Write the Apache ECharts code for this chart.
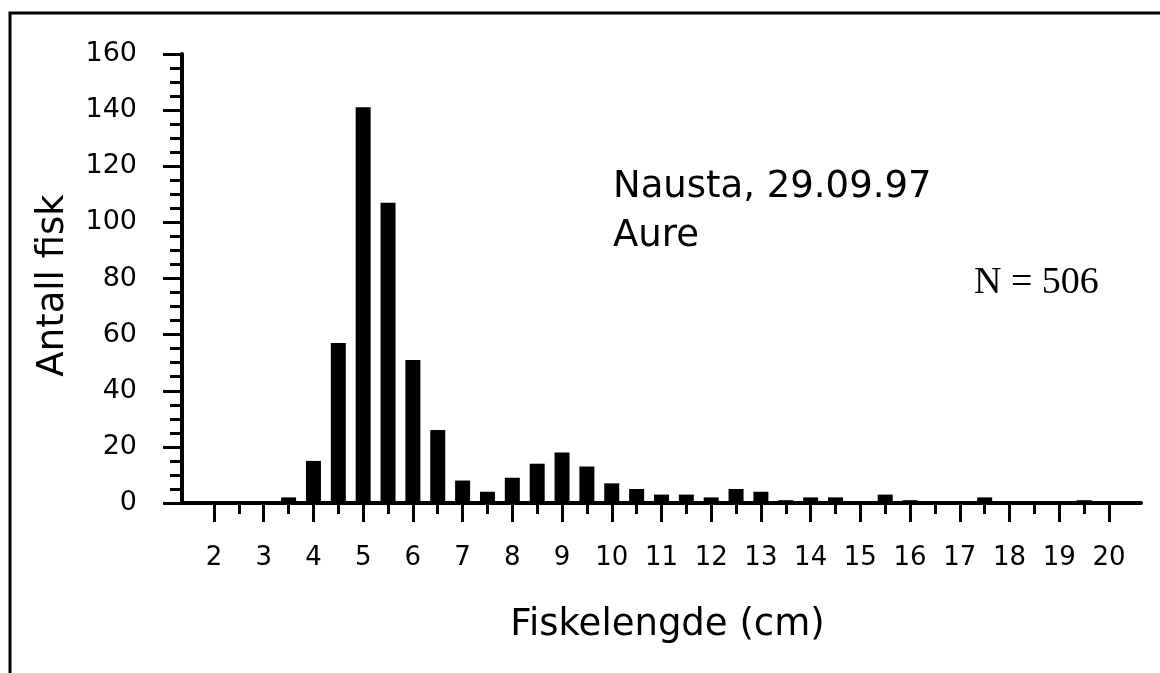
<!DOCTYPE html>
<html>
<head>
<meta charset="utf-8">
<script src="https://cdn.jsdelivr.net/npm/echarts@6/dist/echarts.min.js"></script>
<style>
html,body{margin:0;padding:0;background:#fff;}
#chart{width:1160px;height:673px;}
</style>
</head>
<body>
<div id="chart"></div>
<script>
// Fish length classes (cm) and counts
const lengths = [2,2.5,3,3.5,4,4.5,5,5.5,6,6.5,7,7.5,8,8.5,9,9.5,10,10.5,11,11.5,12,12.5,13,13.5,14,14.5,15,15.5,16,16.5,17,17.5,18,18.5,19,19.5,20];
const counts  = [0,0,0,2,15,57,141,107,51,26,8,4,9,14,18,13,7,5,3,3,2,5,4,1,2,2,0,3,1,0,0,2,0,0,0,1,0];
const majorTicks = [2,3,4,5,6,7,8,9,10,11,12,13,14,15,16,17,18,19,20];
const minorTicks = [2.5,3.5,4.5,5.5,6.5,7.5,8.5,9.5,10.5,11.5,12.5,13.5,14.5,15.5,16.5,17.5,18.5,19.5];
const yTicks = [0,20,40,60,80,100,120,140,160];
const titleText = 'Nausta, 29.09.97';
const speciesText = 'Aure';
const nText = 'N = 506';

const chart = echarts.init(document.getElementById('chart'), null, {renderer:'canvas'});
const sans = 'DejaVu Sans';
const X_MIN = 1.356, X_MAX = 20.645;

const option = {
  backgroundColor: '#ffffff',
  animation: false,
  grid: {left: 182, right: 19, top: 54, bottom: 170, containLabel: false},
  xAxis: [
    {
      type: 'value', position: 'bottom', min: X_MIN, max: X_MAX,
      name: 'Fiskelengde (cm)', nameLocation: 'middle', nameGap: 104,
      nameTextStyle: {fontFamily: sans, fontSize: 37, color: '#000', padding: [0,0,0,12]},
      axisLine: {show: true, lineStyle: {color: '#000', width: 4}},
      axisTick: {show: true, length: 19, lineStyle: {color: '#000', width: 3}, customValues: majorTicks},
      axisLabel: {show: true, margin: 42, fontFamily: sans, fontSize: 26, color: '#000', customValues: majorTicks,
        formatter: v => String(v)},
      splitLine: {show: false}
    },
    {
      type: 'value', position: 'bottom', min: X_MIN, max: X_MAX, offset: 0,
      axisLine: {show: false},
      axisTick: {show: true, length: 11, lineStyle: {color: '#000', width: 3}, customValues: minorTicks},
      axisLabel: {show: false},
      splitLine: {show: false}
    }
  ],
  yAxis: {
    type: 'value', min: 0, max: 160, interval: 20,
    name: 'Antall fisk', nameLocation: 'middle', nameGap: 110, nameRotate: 90,
    nameTextStyle: {fontFamily: sans, fontSize: 37, color: '#000', padding: [0,14,0,0]},
    axisLine: {show: true, lineStyle: {color: '#000', width: 4}},
    axisTick: {show: true, length: 19, lineStyle: {color: '#000', width: 3}},
    minorTick: {show: true, splitNumber: 4, length: 12, lineStyle: {color: '#000', width: 3}},
    axisLabel: {margin: 45, fontFamily: sans, fontSize: 27, color: '#000', padding: [4,0,0,0]},
    splitLine: {show: false}
  },
  series: [{
    type: 'bar', xAxisIndex: 0, yAxisIndex: 0,
    barWidth: 15,
    itemStyle: {color: '#000'},
    data: lengths.map((l, i) => [l, counts[i]])
  }],
  graphic: [
    {type: 'rect', silent: true, z: 0, shape: {x: 10, y: 13, width: 1300, height: 800},
      style: {fill: 'none', stroke: '#000', lineWidth: 3}},
    {type: 'text', x: 613, y: 187, style: {text: titleText, font: '37px "DejaVu Sans"', fill: '#000', verticalAlign: 'middle'}},
    {type: 'text', x: 613, y: 236, style: {text: speciesText, font: '37px "DejaVu Sans"', fill: '#000', verticalAlign: 'middle'}},
    {type: 'text', x: 974, y: 283, style: {text: nText, font: '38px "Liberation Serif"', fill: '#000', verticalAlign: 'middle'}}
  ]
};
chart.setOption(option);
</script>
</body>
</html>
